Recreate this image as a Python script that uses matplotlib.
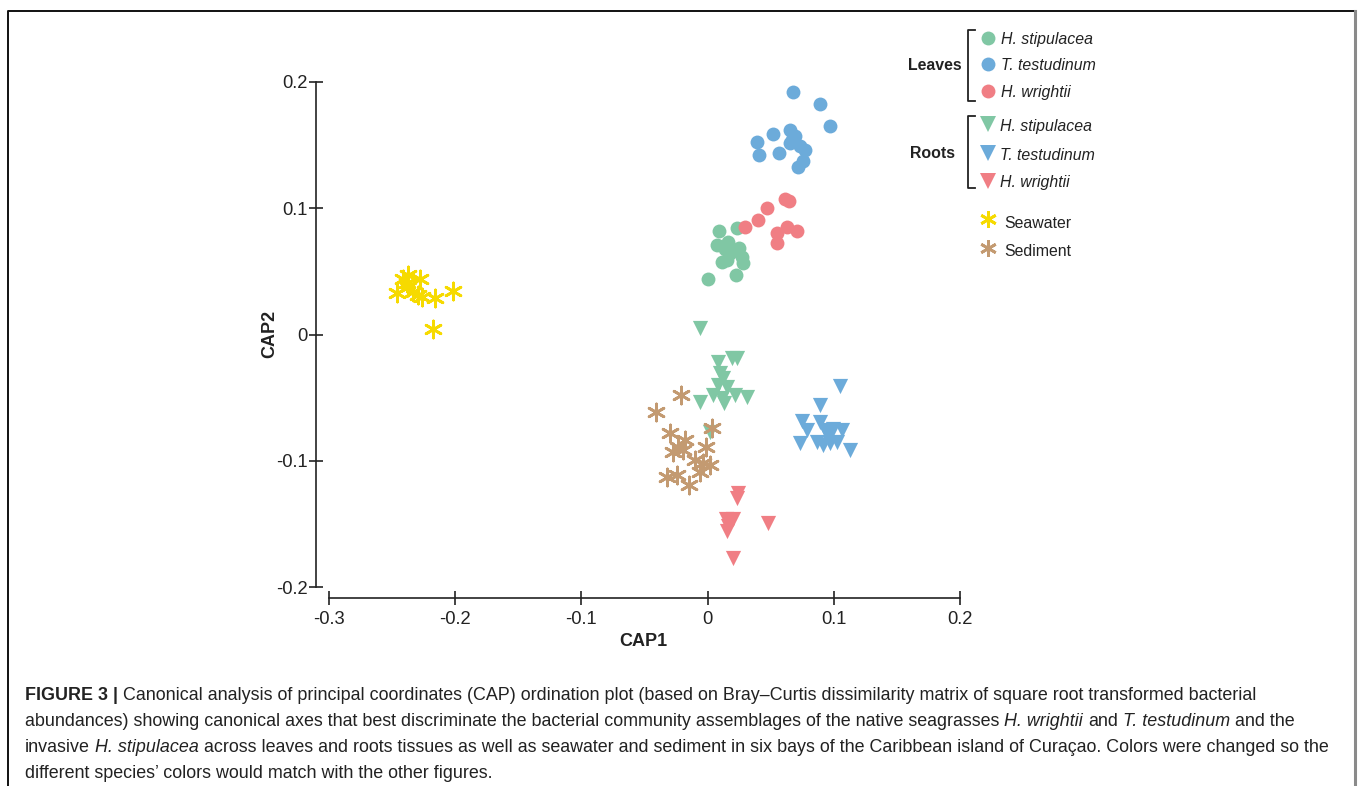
import matplotlib
matplotlib.use("Agg")
import matplotlib.pyplot as plt
from matplotlib.lines import Line2D

W, H = 1358, 786
FONT = ["Liberation Sans", "DejaVu Sans"]
plt.rcParams['font.family'] = FONT

# ---------------- data (CAP1, CAP2) ----------------
leaves_hs_x = [0.0092, 0.0235, 0.0076, 0.0163, 0.0250, 0.0116, 0.0282, 0.0274, 0.0000, 0.0227, 0.0180, 0.0155, 0.0140]
leaves_hs_y = [0.0820, 0.0844, 0.0709, 0.0733, 0.0685, 0.0574, 0.0566, 0.0614, 0.0440, 0.0471, 0.0646, 0.0590, 0.0680]

leaves_tt_x = [0.0678, 0.0892, 0.0971, 0.0520, 0.0654, 0.0694, 0.0393, 0.0409, 0.0567, 0.0654, 0.0734, 0.0773, 0.0758, 0.0718, 0.0670]
leaves_tt_y = [0.1920, 0.1826, 0.1651, 0.1588, 0.1620, 0.1572, 0.1525, 0.1422, 0.1438, 0.1517, 0.1493, 0.1461, 0.1374, 0.1327, 0.1540]

leaves_hw_x = [0.0615, 0.0647, 0.0472, 0.0401, 0.0298, 0.0631, 0.0710, 0.0552, 0.0552]
leaves_hw_y = [0.1073, 0.1057, 0.1002, 0.0907, 0.0851, 0.0851, 0.0820, 0.0804, 0.0725]

roots_hs_x = [-0.0059, 0.0195, 0.0234, 0.0084, 0.0100, 0.0124, 0.0084, 0.0155, 0.0044, 0.0116, 0.0219, 0.0314, -0.0059, 0.0132, 0.0021]
roots_hs_y = [0.0051, -0.0186, -0.0186, -0.0218, -0.0305, -0.0345, -0.0400, -0.0416, -0.0480, -0.0503, -0.0480, -0.0495, -0.0535, -0.0543, -0.0772]

roots_tt_x = [0.1050, 0.0892, 0.0750, 0.0892, 0.0789, 0.0931, 0.0995, 0.1066, 0.0734, 0.0868, 0.0916, 0.0971, 0.1027, 0.1130, 0.0955]
roots_tt_y = [-0.0408, -0.0558, -0.0685, -0.0693, -0.0756, -0.0756, -0.0749, -0.0756, -0.0859, -0.0852, -0.0875, -0.0859, -0.0852, -0.0915, -0.0804]

roots_hw_x = [0.0242, 0.0234, 0.0147, 0.0203, 0.0163, 0.0155, 0.0480, 0.0203]
roots_hw_y = [-0.1255, -0.1295, -0.1461, -0.1461, -0.1517, -0.1556, -0.1493, -0.1770]

seawater_x = [-0.2373, -0.2412, -0.2278, -0.2460, -0.2373, -0.2333, -0.2294, -0.2262, -0.2159, -0.2017, -0.2175, -0.2381]
seawater_y = [0.0471, 0.0440, 0.0440, 0.0329, 0.0376, 0.0337, 0.0313, 0.0297, 0.0289, 0.0345, 0.0044, 0.0408]

sediment_x = [-0.0209, -0.0407, 0.0036, -0.0296, -0.0178, -0.0233, -0.0193, -0.0273, -0.0011, -0.0098, -0.0035, 0.0021, -0.0059, -0.0320, -0.0241, -0.0146]
sediment_y = [-0.0479, -0.0614, -0.0741, -0.0780, -0.0836, -0.0891, -0.0915, -0.0931, -0.0891, -0.0994, -0.1018, -0.1034, -0.1089, -0.1129, -0.1113, -0.1192]

x_ticks = [-0.3, -0.2, -0.1, 0, 0.1, 0.2]
x_ticklabels = ["-0.3", "-0.2", "-0.1", "0", "0.1", "0.2"]
y_ticks = [-0.2, -0.1, 0, 0.1, 0.2]
y_ticklabels = ["-0.2", "-0.1", "0", "0.1", "0.2"]

species = ["H. stipulacea", "T. testudinum", "H. wrightii"]
C_GREEN, C_BLUE, C_RED = "#80C7A4", "#6CABDA", "#F07E84"
C_YELLOW, C_BROWN = "#F6DA00", "#C39A71"
ASTER = (6, 2, 0)

# ---------------- figure ----------------
fig = plt.figure(figsize=(W / 100, H / 100), dpi=100)

def fx(x):
    return x / W

def fy(y):
    return 1 - y / H

ax = fig.add_axes([fx(329), fy(587), (960 - 329) / W, (587 - 82) / H])
ax.set_xlim(-0.3, 0.2)
ax.set_ylim(-0.2, 0.2)

S_CIRC, S_TRI, S_AST = 100, 120, 150
for xs, ys, c in [(leaves_hs_x, leaves_hs_y, C_GREEN), (leaves_tt_x, leaves_tt_y, C_BLUE), (leaves_hw_x, leaves_hw_y, C_RED)]:
    ax.scatter(xs, ys, s=S_CIRC, marker='o', color=c, linewidths=0, clip_on=False, zorder=3)
for xs, ys, c in [(roots_hs_x, roots_hs_y, C_GREEN), (roots_tt_x, roots_tt_y, C_BLUE), (roots_hw_x, roots_hw_y, C_RED)]:
    ax.scatter(xs, ys, s=S_TRI, marker='v', color=c, linewidths=0, clip_on=False, zorder=3)
ax.scatter(seawater_x, seawater_y, s=S_AST, marker=ASTER, color=C_YELLOW, linewidths=2.0, clip_on=False, zorder=3)
ax.scatter(sediment_x, sediment_y, s=S_AST, marker=ASTER, color=C_BROWN, linewidths=2.0, clip_on=False, zorder=4)

for side in ["top", "right"]:
    ax.spines[side].set_visible(False)
ax.spines["left"].set_position(("outward", 9.4))
ax.spines["bottom"].set_position(("outward", 8.0))
for side in ["left", "bottom"]:
    ax.spines[side].set_linewidth(1.2)
    ax.spines[side].set_color("#222222")
ax.set_xticks(x_ticks)
ax.set_xticklabels(x_ticklabels)
ax.set_yticks(y_ticks)
ax.set_yticklabels(y_ticklabels)
ax.tick_params(direction="inout", length=10.5, width=1.2, color="#222222", labelsize=13.2, labelcolor="#222222")
ax.tick_params(axis="x", pad=4)
ax.tick_params(axis="y", pad=1)
ax.set_xlabel("CAP1", fontsize=13, fontweight="bold", color="#222222", va="center")
ax.set_ylabel("CAP2", fontsize=13, fontweight="bold", color="#222222", va="center")
ax.xaxis.set_label_coords((643 - 329) / 631, -(641 - 587) / 505)
ax.yaxis.set_label_coords((270 - 329) / 631, (587 - 334) / 505)
ax.set_facecolor("none")

# ---------------- legend (manual) ----------------
LS = 11.4
leg_c_y = [38, 64, 91]
leg_t_y = [124, 153, 181]
for yy, c, name in zip(leg_c_y, [C_GREEN, C_BLUE, C_RED], species):
    fig.add_artist(Line2D([fx(988)], [fy(yy)], marker='o', markersize=10, color=c, markeredgewidth=0))
    fig.text(fx(1001), fy(yy + 1.5), name, fontsize=LS, fontstyle="italic", va="center", ha="left", color="#222222")
for yy, c, name in zip(leg_t_y, [C_GREEN, C_BLUE, C_RED], species):
    fig.add_artist(Line2D([fx(988)], [fy(yy)], marker='v', markersize=11, color=c, markeredgewidth=0))
    fig.text(fx(1000), fy(yy + 2), name, fontsize=LS, fontstyle="italic", va="center", ha="left", color="#222222")
for yy, ty, c, name in [(219, 224, C_YELLOW, "Seawater"), (248, 251, C_BROWN, "Sediment")]:
    fig.add_artist(Line2D([fx(988)], [fy(yy)], marker=ASTER, markersize=12, color=c, markeredgewidth=2.0))
    fig.text(fx(1004), fy(ty), name, fontsize=LS, va="center", ha="left", color="#222222")
fig.text(fx(962), fy(65.5), "Leaves", fontsize=LS, fontweight="bold", va="center", ha="right", color="#222222")
fig.text(fx(955), fy(153.5), "Roots", fontsize=LS, fontweight="bold", va="center", ha="right", color="#222222")
for y0, y1 in [(30, 101), (116, 188)]:
    fig.add_artist(Line2D([fx(975), fx(968), fx(968), fx(975)], [fy(y0), fy(y0), fy(y1), fy(y1)],
                          color="#222222", linewidth=1.3))

# ---------------- frame ----------------
fig.add_artist(Line2D([fx(8), fx(8), fx(1355)], [fy(786), fy(11), fy(11)], color="#111111", linewidth=1.4))
fig.add_artist(Line2D([fx(1355), fx(1355)], [fy(11), fy(786)], color="#8a8a8a", linewidth=2.2))

# ---------------- caption (rich text) ----------------
caption_lines = [
    [("FIGURE 3 | ", "bold"), ("Canonical analysis of principal coordinates (CAP) ordination plot (based on Bray\u2013Curtis dissimilarity matrix of square root transformed bacterial", "normal")],
    [("abundances) showing canonical axes that best discriminate the bacterial community assemblages of the native seagrasses ", "normal"), ("H. wrightii", "italic"), (" and ", "normal"), ("T. testudinum", "italic"), (" and the", "normal")],
    [("invasive ", "normal"), ("H. stipulacea", "italic"), (" across leaves and roots tissues as well as seawater and sediment in six bays of the Caribbean island of Cura\u00e7ao. Colors were changed so the", "normal")],
    [("different species\u2019 colors would match with the other figures.", "normal")],
]
caption_y = [695, 721, 747, 773]
CAP_X0, CAP_X1 = 25, 1262

renderer = fig.canvas.get_renderer()

def style_kw(style):
    if style == "bold":
        return {"fontweight": "bold"}
    if style == "italic":
        return {"fontstyle": "italic"}
    return {}

def measure(s, size, **kw):
    t = fig.text(0, 0, s, fontsize=size, **kw)
    w = t.get_window_extent(renderer).width
    t.remove()
    return w

def layout(parts, size, yy=None):
    sw = measure("a a", size) - measure("aa", size)
    cx = CAP_X0
    for txt, style in parts:
        kw = style_kw(style)
        lead = len(txt) - len(txt.lstrip(" "))
        trail = len(txt) - len(txt.rstrip(" "))
        core = txt.strip(" ")
        cx += lead * sw
        w = measure(core, size, **kw)
        if yy is not None:
            fig.text(fx(cx), fy(yy), core, fontsize=size, va="center", ha="left", color="#222222", **kw)
        cx += w + trail * sw
    return cx

base = 11.6
end = layout(caption_lines[0], base)
CS = base * (CAP_X1 - CAP_X0) / (end - CAP_X0)

for parts, yy in zip(caption_lines, caption_y):
    layout(parts, CS, yy)

fig.savefig("out.png", dpi=100)
